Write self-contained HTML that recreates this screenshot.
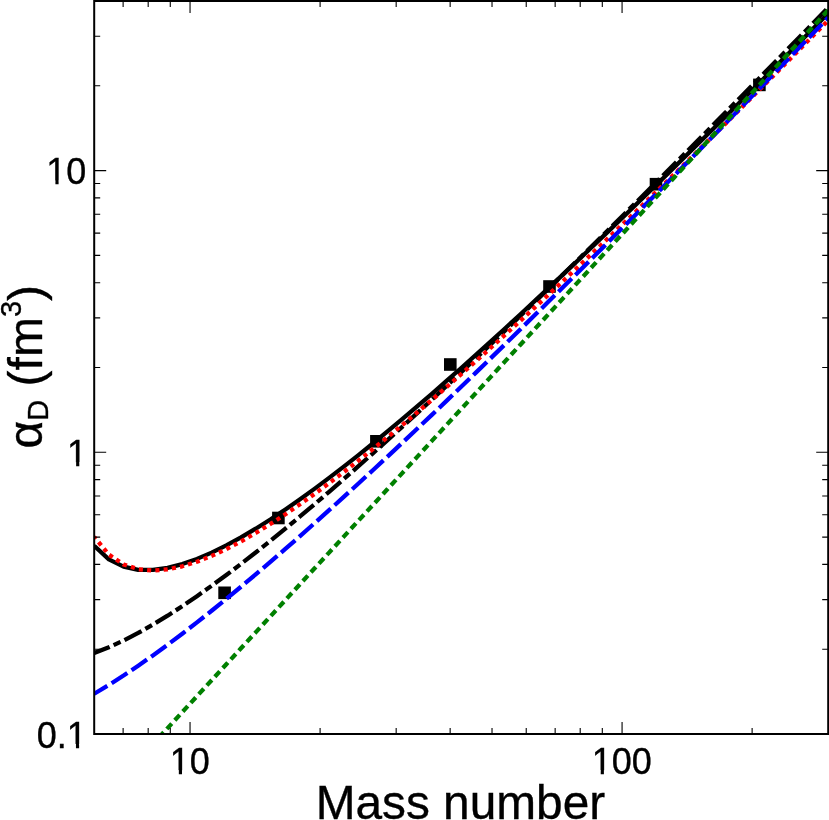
<!DOCTYPE html>
<html lang="en">
<head>
<meta charset="utf-8">
<title>Dipole polarizability vs mass number</title>
<style>
html,body{margin:0;padding:0;background:#fff;}
body{width:829px;height:820px;overflow:hidden;}
svg{display:block;will-change:transform;}
text{font-family:"Liberation Sans",sans-serif;fill:#000;stroke:#000;stroke-width:0.35px;}
</style>
</head>
<body>
<svg width="829" height="820" viewBox="0 0 829 820">
<rect x="0" y="0" width="829" height="820" fill="#fff"/>
<defs><clipPath id="plot"><rect x="94.2" y="1.0" width="734.0" height="733.0"/></clipPath></defs>
<g clip-path="url(#plot)" fill="none" stroke-linejoin="round">
<g fill="#000" stroke="none">
<rect x="218.30" y="586.50" width="12.6" height="12.6"/><rect x="272.10" y="511.70" width="12.6" height="12.6"/><rect x="370.10" y="435.00" width="12.6" height="12.6"/><rect x="444.00" y="358.20" width="12.6" height="12.6"/><rect x="543.20" y="280.20" width="12.6" height="12.6"/><rect x="649.70" y="177.90" width="12.6" height="12.6"/><rect x="753.10" y="78.60" width="12.6" height="12.6"/>
</g>
<path d="M94.20 545.78 L108.88 559.41 L123.56 566.70 L138.24 569.81 L152.92 569.95 L167.60 567.87 L182.28 564.07 L196.96 558.89 L211.64 552.60 L226.32 545.38 L241.00 537.38 L255.68 528.70 L270.36 519.44 L285.04 509.68 L299.72 499.46 L314.40 488.86 L329.08 477.90 L343.76 466.62 L358.44 455.06 L373.12 443.24 L387.80 431.18 L402.48 418.90 L417.16 406.43 L431.84 393.78 L446.52 380.95 L461.20 367.97 L475.88 354.85 L490.56 341.59 L505.24 328.21 L519.92 314.71 L534.60 301.10 L549.28 287.39 L563.96 273.58 L578.64 259.68 L593.32 245.70 L608.00 231.63 L622.68 217.49 L637.36 203.27 L652.04 188.99 L666.72 174.65 L681.40 160.24 L696.08 145.77 L710.76 131.25 L725.44 116.67 L740.12 102.05 L754.80 87.38 L769.48 72.66 L784.16 57.90 L798.84 43.09 L813.52 28.25 L828.20 13.37" stroke="#000" stroke-width="4.25"/>
<path d="M94.20 652.99 L108.88 647.28 L123.56 640.54 L138.24 632.94 L152.92 624.62 L167.60 615.66 L182.28 606.16 L196.96 596.18 L211.64 585.78 L226.32 575.01 L241.00 563.90 L255.68 552.49 L270.36 540.80 L285.04 528.87 L299.72 516.71 L314.40 504.34 L329.08 491.78 L343.76 479.05 L358.44 466.15 L373.12 453.11 L387.80 439.92 L402.48 426.60 L417.16 413.17 L431.84 399.62 L446.52 385.96 L461.20 372.20 L475.88 358.35 L490.56 344.41 L505.24 330.39 L519.92 316.29 L534.60 302.11 L549.28 287.86 L563.96 273.55 L578.64 259.18 L593.32 244.74 L608.00 230.25 L622.68 215.70 L637.36 201.10 L652.04 186.46 L666.72 171.76 L681.40 157.02 L696.08 142.24 L710.76 127.42 L725.44 112.56 L740.12 97.66 L754.80 82.72 L769.48 67.76 L784.16 52.75 L798.84 37.72 L813.52 22.66 L828.20 7.56" stroke="#000" stroke-width="4.25" stroke-dasharray="19.3 4.35 7.65 4.35" stroke-dashoffset="2.7"/>
<path d="M94.20 536.91 L108.88 554.61 L123.56 564.40 L138.24 569.21 L152.92 570.57 L167.60 569.41 L182.28 566.34 L196.96 561.75 L211.64 555.93 L226.32 549.11 L241.00 541.44 L255.68 533.06 L270.36 524.05 L285.04 514.50 L299.72 504.49 L314.40 494.05 L329.08 483.25 L343.76 472.11 L358.44 460.67 L373.12 448.96 L387.80 437.01 L402.48 424.83 L417.16 412.44 L431.84 399.87 L446.52 387.12 L461.20 374.21 L475.88 361.15 L490.56 347.95 L505.24 334.63 L519.92 321.18 L534.60 307.62 L549.28 293.95 L563.96 280.18 L578.64 266.32 L593.32 252.38 L608.00 238.35 L622.68 224.24 L637.36 210.06 L652.04 195.81 L666.72 181.49 L681.40 167.11 L696.08 152.67 L710.76 138.17 L725.44 123.62 L740.12 109.02 L754.80 94.36 L769.48 79.67 L784.16 64.92 L798.84 50.14 L813.52 35.31 L828.20 20.45" stroke="#ff0000" stroke-width="4.25" stroke-dasharray="4.1 4.2" stroke-dashoffset="1.4"/>
<path d="M94.20 693.77 L108.88 684.96 L123.56 675.58 L138.24 665.72 L152.92 655.41 L167.60 644.73 L182.28 633.69 L196.96 622.35 L211.64 610.73 L226.32 598.85 L241.00 586.74 L255.68 574.42 L270.36 561.91 L285.04 549.22 L299.72 536.36 L314.40 523.35 L329.08 510.19 L343.76 496.91 L358.44 483.50 L373.12 469.97 L387.80 456.34 L402.48 442.61 L417.16 428.78 L431.84 414.86 L446.52 400.85 L461.20 386.77 L475.88 372.61 L490.56 358.38 L505.24 344.09 L519.92 329.73 L534.60 315.31 L549.28 300.83 L563.96 286.29 L578.64 271.71 L593.32 257.07 L608.00 242.39 L622.68 227.66 L637.36 212.89 L652.04 198.08 L666.72 183.22 L681.40 168.33 L696.08 153.41 L710.76 138.44 L725.44 123.45 L740.12 108.42 L754.80 93.37 L769.48 78.28 L784.16 63.17 L798.84 48.03 L813.52 32.86 L828.20 17.67" stroke="#0000ff" stroke-width="4.25" stroke-dasharray="18.7 5.1" stroke-dashoffset="3.4"/>
<path d="M94.20 807.84 L108.88 791.89 L123.56 775.93 L138.24 759.98 L152.92 744.03 L167.60 728.07 L182.28 712.12 L196.96 696.17 L211.64 680.21 L226.32 664.26 L241.00 648.31 L255.68 632.35 L270.36 616.40 L285.04 600.45 L299.72 584.49 L314.40 568.54 L329.08 552.59 L343.76 536.63 L358.44 520.68 L373.12 504.73 L387.80 488.77 L402.48 472.82 L417.16 456.87 L431.84 440.91 L446.52 424.96 L461.20 409.01 L475.88 393.05 L490.56 377.10 L505.24 361.15 L519.92 345.19 L534.60 329.24 L549.28 313.29 L563.96 297.33 L578.64 281.38 L593.32 265.43 L608.00 249.47 L622.68 233.52 L637.36 217.57 L652.04 201.61 L666.72 185.66 L681.40 169.71 L696.08 153.75 L710.76 137.80 L725.44 121.85 L740.12 105.89 L754.80 89.94 L769.48 73.99 L784.16 58.03 L798.84 42.08 L813.52 26.13 L828.20 10.17" stroke="#008000" stroke-width="4.25" stroke-dasharray="7.3 4.525" stroke-dashoffset="-0.8"/>
</g>
<path d="M123.12 734.00V728.00M123.12 1.00V7.00M148.18 734.00V728.00M148.18 1.00V7.00M170.28 734.00V728.00M170.28 1.00V7.00M190.04 734.00V722.00M190.04 1.00V13.00M320.10 734.00V728.00M320.10 1.00V7.00M396.17 734.00V728.00M396.17 1.00V7.00M450.15 734.00V728.00M450.15 1.00V7.00M492.02 734.00V728.00M492.02 1.00V7.00M526.23 734.00V728.00M526.23 1.00V7.00M555.15 734.00V728.00M555.15 1.00V7.00M580.20 734.00V728.00M580.20 1.00V7.00M602.30 734.00V728.00M602.30 1.00V7.00M622.07 734.00V722.00M622.07 1.00V13.00M752.12 734.00V728.00M752.12 1.00V7.00M94.20 649.20H100.20M828.20 649.20H822.20M94.20 599.59H100.20M828.20 599.59H822.20M94.20 564.40H100.20M828.20 564.40H822.20M94.20 537.10H100.20M828.20 537.10H822.20M94.20 514.79H100.20M828.20 514.79H822.20M94.20 495.94H100.20M828.20 495.94H822.20M94.20 479.60H100.20M828.20 479.60H822.20M94.20 465.19H100.20M828.20 465.19H822.20M94.20 452.30H106.20M828.20 452.30H816.20M94.20 367.50H100.20M828.20 367.50H822.20M94.20 317.90H100.20M828.20 317.90H822.20M94.20 282.70H100.20M828.20 282.70H822.20M94.20 255.40H100.20M828.20 255.40H822.20M94.20 233.09H100.20M828.20 233.09H822.20M94.20 214.24H100.20M828.20 214.24H822.20M94.20 197.90H100.20M828.20 197.90H822.20M94.20 183.49H100.20M828.20 183.49H822.20M94.20 170.60H106.20M828.20 170.60H816.20M94.20 85.80H100.20M828.20 85.80H822.20M94.20 36.20H100.20M828.20 36.20H822.20" stroke="#000" stroke-width="1.1" fill="none"/>
<rect x="94.2" y="1.0" width="734.00" height="733.00" fill="none" stroke="#000" stroke-width="2"/>
<g transform="translate(46.36 184.30) scale(1 1.045)"><text x="0" y="0" font-size="36.0px">10</text><rect x="1.14" y="-3.59" width="7.91" height="5.69" fill="#fff"/><rect x="12.23" y="-3.59" width="7.63" height="5.69" fill="#fff"/></g>
<g transform="translate(67.08 466.00) scale(1 1.045)"><text x="0" y="0" font-size="36.0px">1</text><rect x="1.14" y="-3.59" width="7.91" height="5.69" fill="#fff"/><rect x="12.23" y="-3.59" width="7.63" height="5.69" fill="#fff"/></g>
<g transform="translate(36.86 747.70) scale(1 1.045)"><text x="0" y="0" font-size="36.0px">0.1</text><rect x="31.17" y="-3.59" width="7.91" height="5.69" fill="#fff"/><rect x="42.26" y="-3.59" width="7.63" height="5.69" fill="#fff"/></g>
<g transform="translate(169.78 774.00) scale(1 1.045)"><text x="0" y="0" font-size="36.0px">10</text><rect x="1.14" y="-3.59" width="7.91" height="5.69" fill="#fff"/><rect x="12.23" y="-3.59" width="7.63" height="5.69" fill="#fff"/></g>
<g transform="translate(591.67 774.00) scale(1 1.045)"><text x="0" y="0" font-size="36.0px">100</text><rect x="1.14" y="-3.59" width="7.91" height="5.69" fill="#fff"/><rect x="12.23" y="-3.59" width="7.63" height="5.69" fill="#fff"/></g>
<text x="460.4" y="819.1" font-size="47.8px" text-anchor="middle">Mass number</text>
<g transform="translate(42.2 366.7) rotate(-90)">
<text x="0" y="0" font-size="48px" text-anchor="middle">&#945;<tspan font-size="29px" dy="5.4">D</tspan><tspan dy="-5.4"> (fm</tspan><tspan font-size="29px" dy="-20.8">3</tspan><tspan dy="20.8">)</tspan></text>
</g>
</svg>
</body>
</html>
